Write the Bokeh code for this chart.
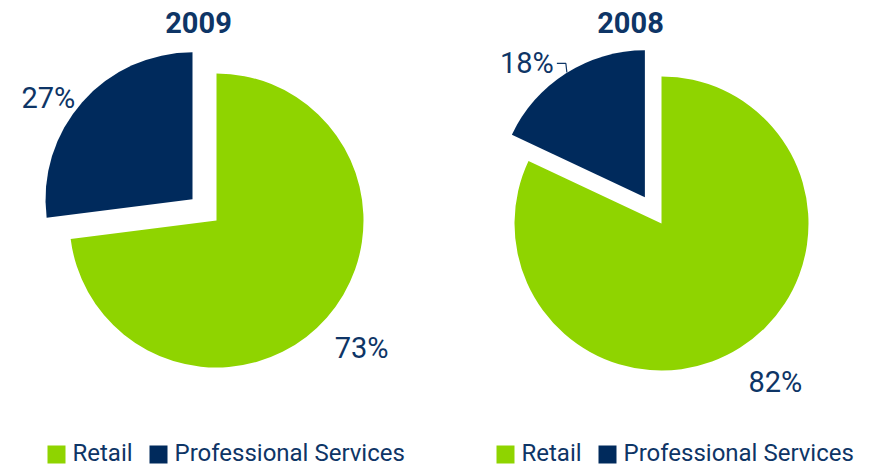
import math
from bokeh.plotting import figure
from bokeh.models import Range1d
from bokeh.core.properties import value
from bokeh.embed import file_html
from bokeh.resources import INLINE

# ---- data ----
years = ["2009", "2008"]
categories = ["Retail", "Professional Services"]
retail = [73, 82]
professional = [27, 18]
labels_retail = ["73%", "82%"]
labels_prof = ["27%", "18%"]

# ---- style / layout ----
GREEN = "#8FD400"
NAVY = "#002A5C"
TEXT = "#0E3566"
FONT = "Roboto"
W, H = 871, 467
R = 147

def X(px):
    return px

def Y(py):
    return H - py

centers = [(X(216), Y(220)), (X(661), Y(223))]
explode = [32, 31]
title_pos = [(X(198), Y(22)), (X(630), Y(22))]
lab_big = [(1.316, 0.0), (1.33, 3.2)]
lab_small = [(1.197, 6.4), (1.214, 9.0)]
legend_x0 = [X(47), X(496)]
legend_sq = Y(454)
legend_txt = Y(452.5)

p = figure(width=W, height=H, output_backend="svg", toolbar_location=None,
           x_range=Range1d(0, W), y_range=Range1d(0, H), min_border=0)
p.axis.visible = False
p.grid.visible = False
p.outline_line_color = None

for i in range(2):
    cx, cy = centers[i]
    total = retail[i] + professional[i]
    prof_deg = professional[i] / total * 360.0
    ps, pe = 90.0, 90.0 + prof_deg
    rs, re_ = pe, 450.0
    pmid = math.radians((ps + pe) / 2)
    rmid = math.radians((rs + re_) / 2)
    ox = cx + explode[i] * math.cos(pmid)
    oy = cy + explode[i] * math.sin(pmid)
    p.wedge(x=[cx], y=[cy], radius=R, radius_units="screen",
            start_angle=[math.radians(rs)], end_angle=[math.radians(re_)],
            fill_color=GREEN, line_color=None)
    p.wedge(x=[ox], y=[oy], radius=R, radius_units="screen",
            start_angle=[math.radians(ps)], end_angle=[math.radians(pe)],
            fill_color=NAVY, line_color=None)
    k, t = lab_big[i]
    a = rmid + math.radians(t)
    p.text(x=[cx + k * R * math.cos(a)], y=[cy + k * R * math.sin(a)],
           text=[labels_retail[i]], text_font=value(FONT), text_font_size="29px",
           text_color=TEXT, text_align="center", text_baseline="middle")
    k, t = lab_small[i]
    a = pmid + math.radians(t)
    lx, ly = ox + k * R * math.cos(a), oy + k * R * math.sin(a)
    p.text(x=[lx], y=[ly], text=[labels_prof[i]], text_font=value(FONT),
           text_font_size="29px", text_color=TEXT, text_align="center",
           text_baseline="middle")
    if i == 1:
        p.line(x=[lx + 30, lx + 39, lx + 40], y=[ly, ly, ly - 9],
               line_color=TEXT, line_width=1.2)
    tx, ty = title_pos[i]
    p.text(x=[tx], y=[ty], text=[years[i]], text_font=value(FONT),
           text_font_size="29px", text_font_style="bold", text_color=TEXT,
           text_align="center", text_baseline="middle")
    x0 = legend_x0[i]
    p.rect(x=[x0 + 9], y=[legend_sq], width=18, height=18, width_units="screen",
           height_units="screen", fill_color=GREEN, line_color=None)
    p.text(x=[x0 + 25], y=[legend_txt], text=[categories[0]], text_font=value(FONT),
           text_font_size="24px", text_color=TEXT, text_align="left",
           text_baseline="middle")
    p.rect(x=[x0 + 111], y=[legend_sq], width=18, height=18, width_units="screen",
           height_units="screen", fill_color=NAVY, line_color=None)
    p.text(x=[x0 + 127], y=[legend_txt], text=[categories[1]], text_font=value(FONT),
           text_font_size="24px", text_color=TEXT, text_align="left",
           text_baseline="middle")

open("out.html", "w").write(file_html(p, INLINE))
